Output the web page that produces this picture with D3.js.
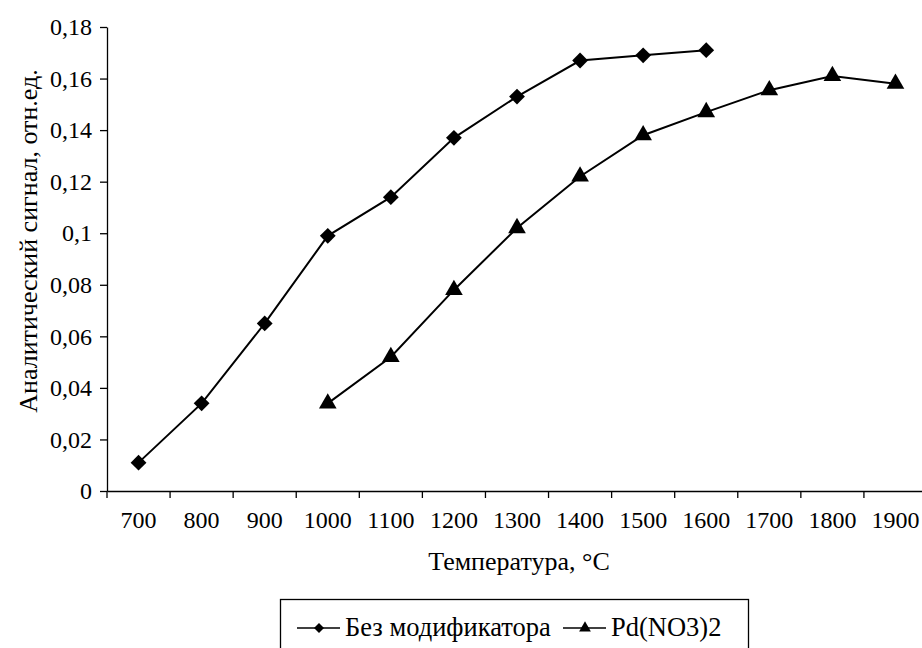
<!DOCTYPE html>
<html>
<head>
<meta charset="utf-8">
<script src="https://cdn.jsdelivr.net/npm/d3@7"></script>
<style>
  body { margin: 0; background: #fff; }
  svg text { font-family: "Liberation Serif", "Times New Roman", serif !important; fill: #000; }
</style>
</head>
<body>
<svg id="chart" width="922" height="648"></svg>
<script>
// data
var temps = [700, 800, 900, 1000, 1100, 1200, 1300, 1400, 1500, 1600, 1700, 1800, 1900];
var noModifier = [0.011, 0.034, 0.065, 0.099, 0.114, 0.137, 0.153, 0.167, 0.169, 0.171, null, null, null];
var pdNitrate = [null, null, null, 0.034, 0.052, 0.078, 0.102, 0.122, 0.138, 0.147, 0.1555, 0.161, 0.158];
var yTicks = [0, 0.02, 0.04, 0.06, 0.08, 0.1, 0.12, 0.14, 0.16, 0.18];
var seriesNames = ["Без модификатора", "Pd(NO3)2"];

var svg = d3.select("#chart");
var plotL = 107, plotR = 927, plotT = 27, plotB = 491;
var fs = 24, fsTitle = 26, fsLegend = 26.5;

var x = d3.scaleBand().domain(temps).range([plotL, plotR]).padding(0);
var y = d3.scaleLinear().domain([0, 0.18]).range([plotB, plotT]);

function fmt(d){ return String(+d.toFixed(2)).replace(".", ","); }

// y axis
var yAxis = svg.append("g")
  .attr("transform", "translate(" + plotL + ",0)")
  .call(d3.axisLeft(y).tickValues(yTicks).tickFormat(fmt).tickSize(7).tickSizeOuter(0).tickPadding(8));
yAxis.attr("font-family", null).attr("font-size", null);
yAxis.selectAll("text").style("font-size", fs + "px");
yAxis.selectAll("line, path").attr("stroke", "#000").attr("stroke-width", 1.3);

// x axis: labels centred in bands, ticks at band edges
var xAxis = svg.append("g")
  .attr("transform", "translate(0," + plotB + ")")
  .call(d3.axisBottom(x).tickSize(0).tickSizeOuter(0).tickPadding(20));
xAxis.attr("font-family", null).attr("font-size", null);
xAxis.selectAll("text").style("font-size", fs + "px");
xAxis.select("path").attr("stroke", "#000").attr("stroke-width", 1.3);
svg.append("g").selectAll("line")
  .data(temps)
  .enter().append("line")
  .attr("x1", function(d){ return x(d); })
  .attr("x2", function(d){ return x(d); })
  .attr("y1", plotB)
  .attr("y2", plotB + 7)
  .attr("stroke", "#000")
  .attr("stroke-width", 1.3);

// axis titles
svg.append("text")
  .attr("transform", "translate(37,241) rotate(-90)")
  .attr("text-anchor", "middle")
  .style("font-size", fsTitle + "px")
  .text("Аналитический сигнал, отн.ед.");

svg.append("text")
  .attr("x", 519)
  .attr("y", 570)
  .attr("text-anchor", "middle")
  .style("font-size", fsTitle + "px")
  .text("Температура, °C");

// series
var diamond = d3.symbol().type(d3.symbolSquare).size(125);
var triangle = d3.symbol().type(d3.symbolTriangle).size(135);

function cx(i){ return x(temps[i]) + x.bandwidth() / 2; }

function drawSeries(vals, sym, rot){
  var pts = vals.map(function(v, i){ return {i: i, v: v}; }).filter(function(d){ return d.v != null; });
  svg.append("path")
    .datum(pts)
    .attr("fill", "none")
    .attr("stroke", "#000")
    .attr("stroke-width", 2)
    .attr("d", d3.line().x(function(d){ return cx(d.i); }).y(function(d){ return y(d.v); }));
  svg.append("g").selectAll("path")
    .data(pts)
    .enter().append("path")
    .attr("d", sym)
    .attr("fill", "#000")
    .attr("transform", function(d){ return "translate(" + cx(d.i) + "," + y(d.v) + ") rotate(" + rot + ")"; });
}
drawSeries(noModifier, diamond, 45);
drawSeries(pdNitrate, triangle, 0);

// legend
var lg = svg.append("g");
lg.append("rect")
  .attr("x", 280.5).attr("y", 599.5)
  .attr("width", 468).attr("height", 70)
  .attr("fill", "#fff").attr("stroke", "#000").attr("stroke-width", 1.3);

var legendItems = [
  {name: seriesNames[0], x0: 297, sym: d3.symbol().type(d3.symbolSquare).size(50), rot: 45},
  {name: seriesNames[1], x0: 563, sym: d3.symbol().type(d3.symbolTriangle).size(60), rot: 0}
];
legendItems.forEach(function(it){
  lg.append("line")
    .attr("x1", it.x0).attr("x2", it.x0 + 43)
    .attr("y1", 628).attr("y2", 628)
    .attr("stroke", "#000").attr("stroke-width", 1.5);
  lg.append("path")
    .attr("d", it.sym)
    .attr("transform", "translate(" + (it.x0 + 22) + ",628) rotate(" + it.rot + ")");
  lg.append("text")
    .attr("x", it.x0 + 48)
    .attr("y", 636)
    .style("font-size", fsLegend + "px")
    .text(it.name);
});
</script>
</body>
</html>
